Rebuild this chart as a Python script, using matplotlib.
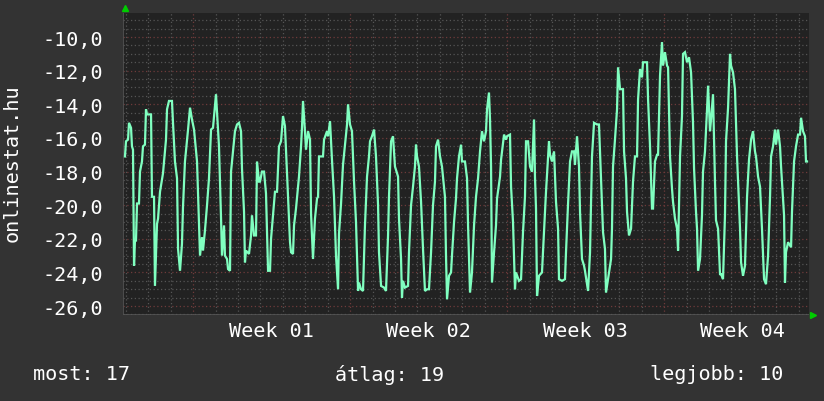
import matplotlib
matplotlib.use("Agg")
import matplotlib.pyplot as plt
from matplotlib.ticker import FixedLocator, FuncFormatter

# ---- data (hours since start of window, value) ----
hours = [
    2.1, 3.2, 5.4, 6.4, 8.6, 9.6, 10.7, 11.8, 12.8, 13.9, 15.0, 17.1, 18.2, 20.3, 21.4, 23.5, 24.6, 25.7, 30.0, 31.0,
    33.2, 34.2, 36.4, 37.5, 39.6, 42.8, 43.9, 46.0, 47.1, 49.2, 52.4, 53.5, 55.6, 57.8, 58.9, 61.0, 63.1, 64.2, 66.3, 69.6,
    71.7, 73.8, 76.0, 79.2, 80.3, 82.4, 84.5, 85.6, 87.7, 89.9, 92.0, 94.2, 96.3, 99.5, 100.6, 102.7,
    104.9, 105.9, 108.1, 109.1, 111.3, 112.4, 114.5, 115.6, 117.7, 119.8, 122.0, 124.1, 126.3, 127.3, 129.5, 130.5, 131.6,
    134.8, 137.0, 138.0, 140.2, 142.3, 143.4, 145.5, 146.6, 148.7, 150.9, 153.0, 155.2, 157.3, 158.4, 160.5, 162.6, 164.8,
    166.9, 169.1, 171.2, 173.3, 174.4, 176.6, 178.7, 179.8, 181.9, 183.0, 185.1, 188.3, 190.5, 191.5, 192.6, 194.7, 195.8,
    198.0, 200.1, 201.2, 203.3, 205.4, 207.6,
    208.7, 209.7, 214.0, 215.1, 218.3, 219.4, 221.5, 223.6, 225.8, 227.9, 230.1, 231.1, 233.3, 235.4, 237.5, 239.7, 240.8,
    242.9, 245.0, 247.2, 249.3, 251.5, 252.5, 254.7, 256.8, 258.9, 261.1, 263.2, 264.3, 266.4, 268.6, 270.7, 272.9, 273.9,
    276.1, 279.3, 281.4, 283.6, 284.6, 286.8, 288.9, 291.0, 294.3, 295.3, 297.5, 298.5, 299.6, 301.7, 305.0, 306.0, 308.2,
    310.3, 312.4,
    313.5, 314.6, 316.7, 318.9, 321.0, 323.1, 325.3, 327.4, 329.6, 331.7, 333.8, 334.9, 337.1, 339.2, 341.3, 344.5, 345.6,
    346.7, 348.8, 351.0, 352.0, 354.2, 356.3, 357.4, 359.5, 361.7, 362.7, 365.9, 368.1, 369.2, 371.3, 373.4, 375.6, 377.7,
    379.9, 382.0, 384.1, 386.3, 388.4, 389.5, 391.6, 392.7, 393.8, 394.8, 397.0, 399.1, 400.2, 403.4, 404.5, 407.7, 409.8,
    410.9, 414.1, 415.2,
    417.3, 419.4, 420.5, 423.7, 425.9, 428.0, 430.1, 431.2, 433.4, 435.5, 437.6, 439.8, 440.8, 441.9, 443.0, 445.1, 448.3,
    450.5, 452.6, 455.8, 456.9, 459.0, 461.2, 463.3, 465.5, 466.5, 469.7, 472.9, 474.0, 476.2, 478.3, 480.4, 482.6, 483.6,
    485.8, 487.9, 489.0, 491.1, 493.3, 494.3, 497.6, 499.7, 501.8, 504.0, 507.2, 509.3, 511.5, 513.6, 515.7, 516.8, 519.0,
    522.2,
    523.2, 524.3, 526.4, 528.6, 529.7, 531.8, 535.0, 536.1, 538.2, 539.3, 541.4, 543.6, 545.7, 547.8, 550.0, 551.1, 553.2,
    555.3, 556.4, 560.7, 561.8, 563.9, 566.0, 567.1, 569.2, 571.4, 572.5, 574.6, 576.7, 577.8, 579.9, 582.1, 583.2, 585.3,
    587.4, 588.5, 590.6, 592.8, 593.9, 596.0, 598.1, 599.2, 601.3, 603.5, 605.6, 607.8, 609.9, 611.0, 613.1, 614.2, 615.3,
    617.4, 619.5, 620.6, 622.7, 624.9, 626.0,
    628.1, 629.2, 631.3, 633.4, 634.5, 636.7, 638.8, 639.9, 642.0, 644.1, 645.2, 647.4, 649.5, 650.6, 652.7, 654.8, 657.0,
    660.2, 661.3, 663.4, 665.5, 667.7, 669.8, 672.0, 674.1, 676.2, 677.3, 679.5, 681.6, 683.7, 685.9, 688.0, 690.2, 692.3,
    693.4, 695.5, 697.6, 698.7, 700.9, 703.0, 704.1, 707.3, 708.3, 709.4, 711.6, 714.8, 715.8, 718.0, 720.1, 722.3, 724.4,
    725.5, 727.6, 729.7, 730.8, 731.9,
]
values = [
    -17.1, -16.2, -16.1, -15.1, -15.4, -16.5, -16.7, -23.6, -22.1, -22.1, -19.9, -19.9, -18.0, -17.4, -16.5, -16.4, -14.3, -14.6, -14.6, -19.5,
    -19.5, -24.8, -21.1, -20.8, -19.2, -18.1, -17.4, -16.1, -14.3, -13.8, -13.8, -15.1, -17.4, -18.4, -22.6, -23.9, -22.3, -20.1, -17.4, -15.5,
    -14.2, -14.9, -15.5, -17.4, -19.3, -23.0, -21.9, -22.7, -21.5, -20.0, -18.4, -15.5, -15.4, -13.4, -14.5, -16.5,
    -20.8, -23.0, -21.2, -23.0, -23.2, -23.8, -23.9, -18.0, -16.8, -15.6, -15.2, -15.1, -15.6, -17.8, -20.4, -23.4, -22.7,
    -22.9, -21.8, -20.6, -21.8, -21.8, -17.4, -18.6, -18.6, -18.0, -18.0, -19.3, -23.9, -23.9, -22.0, -20.6, -19.2, -19.2,
    -16.5, -16.2, -14.7, -15.3, -16.7, -19.5, -22.2, -22.8, -22.9, -21.2, -20.2, -18.3, -16.5, -15.4, -13.8, -15.6, -16.7,
    -15.6, -16.1, -20.5, -23.2, -20.8, -19.6,
    -19.5, -17.1, -17.1, -16.1, -15.6, -15.9, -15.0, -17.3, -19.5, -23.0, -25.0, -21.7, -19.9, -17.6, -16.4, -15.2, -14.0,
    -15.2, -15.6, -18.6, -21.0, -25.1, -24.6, -25.0, -25.1, -21.2, -18.3, -17.1, -16.2, -15.9, -15.5, -17.1, -20.0, -22.8,
    -24.8, -24.9, -25.1, -21.8, -19.5, -16.2, -15.9, -17.7, -18.3, -20.8, -23.2, -25.5, -24.5, -24.9, -24.8, -22.8, -20.0,
    -18.9, -17.7,
    -16.4, -17.1, -17.7, -19.8, -22.6, -25.1, -25.0, -25.0, -22.8, -20.0, -18.6, -16.5, -16.1, -17.1, -17.7, -19.5, -23.0,
    -25.6, -24.2, -24.0, -23.0, -21.0, -19.6, -18.4, -17.1, -16.4, -17.4, -17.4, -18.4, -21.2, -25.2, -24.0, -21.2, -19.5,
    -18.4, -16.8, -15.6, -16.2, -15.6, -14.3, -13.3, -14.9, -17.7, -24.6, -22.8, -21.2, -19.6, -18.3, -17.3, -15.8, -16.1,
    -15.9, -15.8, -18.9,
    -21.0, -25.0, -24.0, -24.5, -24.4, -21.6, -19.5, -16.2, -16.2, -17.7, -18.0, -14.9, -18.3, -20.2, -25.4, -24.2, -24.0,
    -21.6, -19.2, -16.2, -17.0, -17.4, -16.8, -19.8, -21.4, -24.4, -24.5, -24.4, -22.8, -19.9, -17.4, -16.8, -16.8, -17.6,
    -15.9, -17.7, -20.4, -23.2, -23.6, -23.9, -25.1, -22.8, -17.1, -15.1, -15.2, -15.2, -18.4, -21.6, -22.6, -25.2, -24.4,
    -23.2,
    -21.4, -17.7, -16.1, -14.3, -11.8, -13.1, -13.1, -16.8, -18.4, -20.4, -21.8, -21.4, -18.6, -17.1, -17.1, -13.7, -11.9,
    -12.4, -11.5, -11.5, -13.7, -16.5, -20.2, -20.2, -17.4, -17.0, -17.0, -12.3, -10.3, -11.7, -10.9, -11.7, -11.8, -17.1,
    -19.0, -19.8, -20.8, -21.4, -22.7, -17.1, -14.7, -11.0, -10.9, -11.5, -11.2, -12.1, -15.1, -17.8, -20.4, -21.4, -23.9,
    -23.2, -20.6, -18.0, -16.8, -14.3, -12.9,
    -15.6, -14.9, -13.4, -18.6, -20.9, -21.4, -24.1, -24.1, -24.4, -20.6, -16.2, -14.2, -11.0, -11.7, -12.1, -13.1, -17.1,
    -21.4, -23.4, -24.2, -23.6, -19.5, -17.3, -16.1, -15.6, -16.8, -17.1, -18.3, -18.9, -21.4, -24.4, -24.7, -23.0, -19.5,
    -17.1, -16.5, -15.5, -16.4, -15.5, -16.5, -17.7, -20.6, -24.6, -22.8, -22.2, -22.5, -20.4, -17.4, -16.5, -15.8, -15.8,
    -14.8, -15.6, -15.9, -17.4, -17.4,
]
week_labels = ["Week 01", "Week 02", "Week 03", "Week 04"]
week_starts = [75, 243, 411, 579]          # hours of week boundaries
y_ticks = [-10, -12, -14, -16, -18, -20, -22, -24, -26]
legend_items = [("most", 17), ("átlag", 19), ("legjobb", 10)]
y_label = "onlinestat.hu"

# ---- style ----
BG = "#333333"
PLOT_BG = "#222222"
LINE = "#80FFC0"
MINOR = "#555555"
MAJOR = "#6e3a3a"
TXT = "#ffffff"
FONT = "DejaVu Sans Mono"
FS = 14.5

fig = plt.figure(figsize=(8.24, 4.02), dpi=100, facecolor=BG)
ax = fig.add_axes([123 / 824, 86 / 402, 686 / 824, 302 / 402])
ax.set_facecolor(PLOT_BG)

ax.set_xlim(0, 734)
ax.set_ylim(-26.53, -8.57)

# grid
minor_x = [3 + 24 * k for k in range(31)]
for xv in minor_x:
    is_major = xv in week_starts
    ax.axvline(xv, color=MAJOR if is_major else MINOR, lw=0.9,
               ls=(0, (1, 2)), zorder=1)
minor_y = [-26.5 + 0.5 * k for k in range(36)]
for yv in minor_y:
    is_major = (yv % 2 == 0)
    ax.axhline(yv, color=MAJOR if is_major else MINOR, lw=0.9,
               ls=(0, (1, 2)), zorder=1)

ax.plot(hours, values, color=LINE, lw=1.6, zorder=3, solid_joinstyle="miter")

for s in ax.spines.values():
    s.set_visible(False)
ax.axhline(-26.53, color="#555555", lw=1.2, zorder=2)
ax.axvline(0, color="#555555", lw=1.2, zorder=2)

ax.yaxis.set_major_locator(FixedLocator(y_ticks))
ax.yaxis.set_major_formatter(FuncFormatter(lambda v, p: f"{v:.1f}".replace(".", ",")))
ax.tick_params(axis="y", length=0, pad=14, labelcolor=TXT, labelsize=FS)
for lbl in ax.get_yticklabels():
    lbl.set_fontfamily(FONT)

label_pos = [w + 84 for w in week_starts]
ax.set_xticks(label_pos)
ax.set_xticklabels(week_labels, fontfamily=FONT, fontsize=FS, color=TXT)
ax.tick_params(axis="x", length=0, pad=4)

fig.text(12 / 824, 1 - 163 / 402, y_label, rotation=90, color=TXT,
         fontsize=FS, fontfamily=FONT, ha="center", va="center")

# arrows
ax.plot([0.003], [1.017], marker="^", color="#00CC00", ms=4.5,
        transform=ax.transAxes, clip_on=False, zorder=5)
ax.plot([1.006], [0.0], marker=">", color="#00CC00", ms=4.5,
        transform=ax.transAxes, clip_on=False, zorder=5)

# legend line
leg_x = [33 / 824, 335 / 824, 650 / 824]
for (name, val), lx in zip(legend_items, leg_x):
    fig.text(lx, 1 - 375 / 402, f"{name}: {val}", color=TXT, fontsize=FS,
             fontfamily=FONT, ha="left", va="center")

fig.savefig("out.png", dpi=100, facecolor=BG)
